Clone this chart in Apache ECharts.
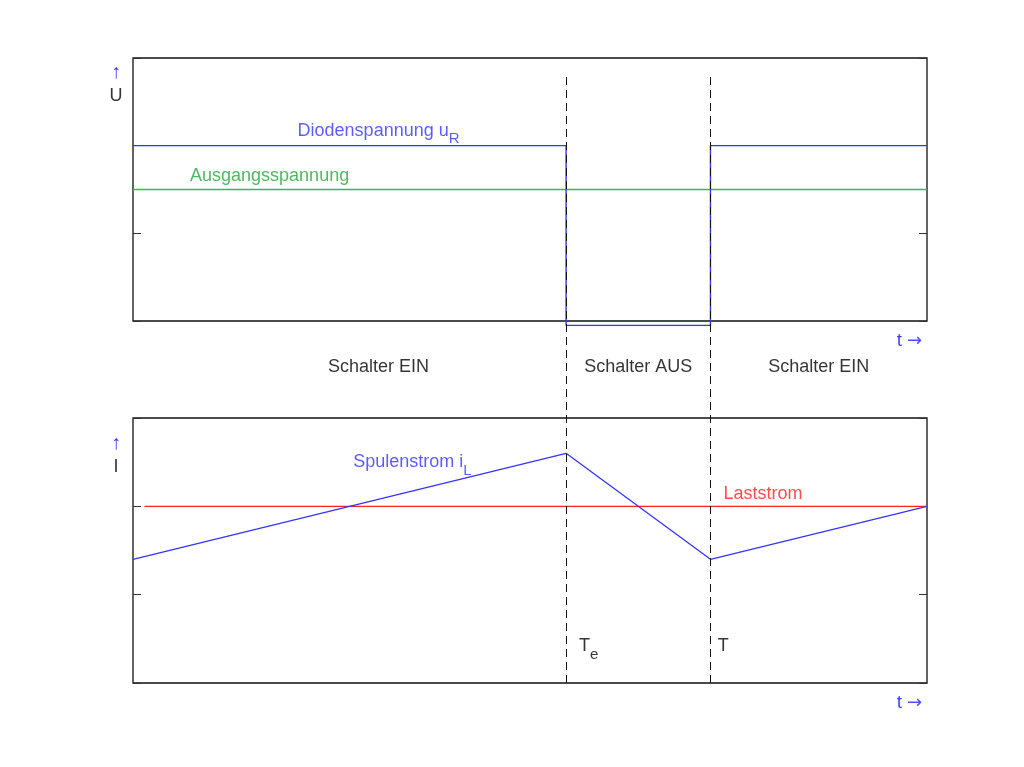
<!DOCTYPE html>
<html><head><meta charset="utf-8">
<script src="https://cdn.jsdelivr.net/npm/echarts@6/dist/echarts.min.js"></script>
<style>html,body{margin:0;background:#fff}#c{width:1024px;height:767px}</style>
</head><body><div id="c"></div>
<script>
// --- data ---
const tU = [0, 3, 3, 4, 4, 5.5];
const uR = [2, 2, -0.05, -0.05, 2, 2];
const tOut = [0, 5.5];
const uOut = [1.5, 1.5];
const tI = [0, 3, 4, 5.5];
const iL = [1.4, 2.6, 1.4, 2.0];
const tLoad = [0.08, 5.5];
const iLoad = [2, 2];
const switchTimes = [3, 4];
const phaseLabels = ['Schalter EIN', 'Schalter AUS', 'Schalter EIN'];
const phaseCenters = [1.7, 3.5, 4.75];

const FONT = '"Liberation Sans", Arial, sans-serif';
const AFONT = '"DejaVu Sans", sans-serif';
const BLUE = '#3434ff', GREEN = '#30c048', RED = '#ff2020';
const zip = (a, b) => a.map((v, i) => [v, b[i]]);

function txt(value, formatter, color, opt) {
  return {
    value: value,
    label: Object.assign({
      show: true, formatter: formatter, color: color, fontFamily: FONT, fontSize: 18,
      position: 'right', distance: 0,
      rich: {
        a: {color: color, fontFamily: FONT, fontSize: 18},
        s: {color: color, fontFamily: FONT, fontSize: 15, padding: [17, 0, 0, 0]},
        ar: {color: '#0000ff', fontFamily: FONT, fontSize: 20, lineHeight: 24},
        b: {color: '#000', fontFamily: FONT, fontSize: 18, lineHeight: 24},
        t: {color: '#1010ff', fontFamily: FONT, fontSize: 19},
        ra: {color: '#2020ff', fontFamily: AFONT, fontSize: 18, padding: [0, 0, 0, 5]}
      }
    }, opt || {})
  };
}

function annot(xi, yi, data) {
  return {type: 'scatter', xAxisIndex: xi, yAxisIndex: yi, symbolSize: 0, clip: false,
    silent: true, z: 10, data: data};
}

const yAx = (gi, pos) => ({
  type: 'value', gridIndex: gi, position: pos, min: 0, max: 3, interval: 1,
  axisLine: {show: false}, axisLabel: {show: false}, splitLine: {show: false},
  axisTick: {show: true, inside: true, length: 8, lineStyle: {color: '#333'}}
});
const xAx = gi => ({type: 'value', gridIndex: gi, min: 0, max: 5.5, show: false});

const chart = echarts.init(document.getElementById('c'));
chart.setOption({
  animation: false,
  backgroundColor: '#fff',
  grid: [
    {left: 133, right: 97, top: 58, height: 263, show: true, borderColor: '#111', borderWidth: 1.3},
    {left: 133, right: 97, top: 418, height: 265, show: true, borderColor: '#111', borderWidth: 1.3},
    {left: 133, right: 97, top: 77, height: 606}
  ],
  xAxis: [xAx(0), xAx(1), xAx(2)],
  yAxis: [yAx(0, 'left'), yAx(0, 'right'), yAx(1, 'left'), yAx(1, 'right'),
    {type: 'value', gridIndex: 2, min: 0, max: 1, show: false}],
  series: [
    {type: 'line', xAxisIndex: 2, yAxisIndex: 4, data: [], z: 1,
      markLine: {silent: true, symbol: 'none', label: {show: false},
        lineStyle: {color: '#111', type: [8, 5], width: 1},
        data: switchTimes.map(t => ({xAxis: t}))}},
    {type: 'line', xAxisIndex: 0, yAxisIndex: 0, data: zip(tOut, uOut), showSymbol: false, clip: false,
      lineStyle: {color: GREEN, width: 1.4}, z: 3},
    {type: 'line', xAxisIndex: 0, yAxisIndex: 0, data: zip(tU, uR), showSymbol: false, clip: false,
      lineStyle: {color: BLUE, width: 1.4}, z: 4},
    {type: 'line', xAxisIndex: 1, yAxisIndex: 2, data: zip(tLoad, iLoad), showSymbol: false, clip: false,
      lineStyle: {color: RED, width: 1.4}, z: 3},
    {type: 'line', xAxisIndex: 1, yAxisIndex: 2, data: zip(tI, iL), showSymbol: false, clip: false,
      lineStyle: {color: BLUE, width: 1.3}, z: 4},
    annot(0, 0, [
      txt([1.14, 2.17], '{a|Diodenspannung u}{s|R}', BLUE),
      txt([0.395, 1.65], 'Ausgangsspannung', '#22a838'),
      txt([0, 2.7], '{ar|↑}\n{b|U}', '#000', {position: 'inside', offset: [-17, 0], align: 'center'}),
      txt([5.5, 0], '{t|t}{ra|→}', '#1010ff', {position: 'left', distance: 5, offset: [0, 20]})
    ]),
    annot(1, 2, [
      txt([1.525, 2.5], '{a|Spulenstrom i}{s|L}', BLUE),
      txt([4.09, 2.14], 'Laststrom', RED),
      txt([3.09, 0.42], '{a|T}{s|e}', '#000'),
      txt([4.05, 0.42], 'T', '#000'),
      txt([0, 2.6], '{ar|↑}\n{b|I}', '#000', {position: 'inside', offset: [-17, 2], align: 'center'}),
      txt([5.5, 0], '{t|t}{ra|→}', '#1010ff', {position: 'left', distance: 5, offset: [0, 20]})
    ]),
    annot(2, 4, phaseCenters.map((c, i) =>
      txt([c, 0.521], phaseLabels[i], '#000', {position: 'inside', align: 'center'})))
  ]
});
</script></body></html>
